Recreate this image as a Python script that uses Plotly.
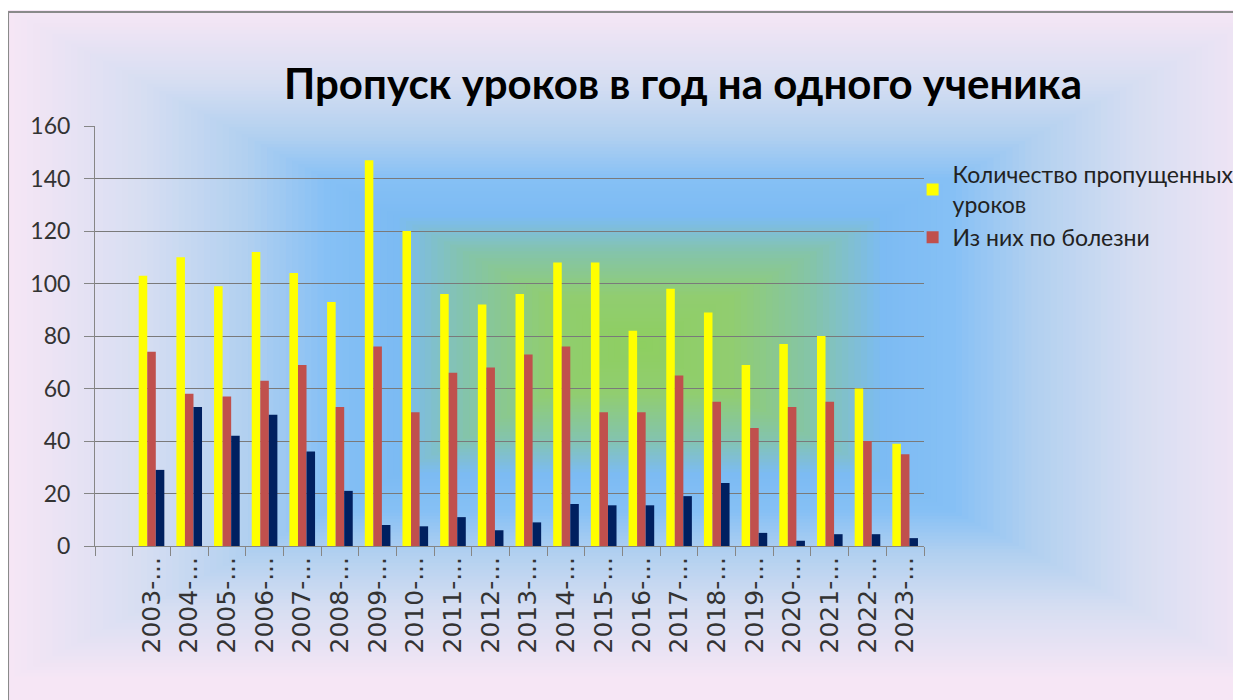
import plotly.graph_objects as go

# ---------------- data ----------------
seasons = ["2003-2004", "2004-2005", "2005-2006", "2006-2007", "2007-2008",
           "2008-2009", "2009-2010", "2010-2011", "2011-2012", "2012-2013",
           "2013-2014", "2014-2015", "2015-2016", "2016-2017", "2017-2018",
           "2018-2019", "2019-2020", "2020-2021", "2021-2022", "2022-2023",
           "2023-2024"]
missed_total = [103, 110, 99, 112, 104, 93, 147, 120, 96, 92, 96,
                108, 108, 82, 98, 89, 69, 77, 80, 60, 39]
missed_illness = [74, 58, 57, 63, 69, 53, 76, 51, 66, 68, 73,
                  76, 51, 51, 65, 55, 45, 53, 55, 40, 35]
series3 = [29, 53, 42, 50, 36, 21, 8, 7.5, 11, 6, 9,
           16, 15.5, 15.5, 19, 24, 5, 2, 4.5, 4.5, 3]
name_total = "Количество пропущенных<br>уроков"
name_illness = "Из них по болезни"
name_3 = "Ряд 3"
title_text = "Пропуск уроков в год на одного ученика"

# truncated labels as shown on the chart
labels = [s[:5] + "..." for s in seasons]

# ---------------- geometry helpers (page pixel coords) ----------------
OFF = 8                      # default body margin of the html page
W, H = 1241 - OFF, 700 - OFF
PL, PR, PT, PB = 95, 924.4, 126, 546      # plot area in page pixels
ML, MT = PL - OFF, PT - OFF
MR, MB = W - (PR - OFF), H - (PB - OFF)
PW, PH = PR - PL, PB - PT


def px(x):
    return (x - PL) / PW


def py(y):
    return (PB - y) / PH


# gradient (rectangular path from centre)
stops = [
    (0.00, (142, 207, 96)),
    (0.15, (145, 205, 112)),
    (0.28, (132, 196, 170)),
    (0.39, (124, 187, 243)),
    (0.50, (134, 192, 245)),
    (0.63, (178, 208, 240)),
    (0.79, (214, 222, 242)),
    (1.00, (246, 230, 245)),
]


def col(t):
    for (t0, c0), (t1, c1) in zip(stops[:-1], stops[1:]):
        if t <= t1:
            f = (t - t0) / (t1 - t0) if t1 > t0 else 0
            c = [round(a + (b - a) * f) for a, b in zip(c0, c1)]
            return "rgb(%d,%d,%d)" % tuple(c)
    return "rgb(%d,%d,%d)" % stops[-1][1]


shapes = []
shapes.append(dict(type="rect", xref="paper", yref="paper", layer="below",
                   x0=px(8), x1=px(1260), y0=py(13), y1=py(720),
                   fillcolor=col(1.0), line=dict(width=0)))
cx, cy, GW, GH = 640, 345, 632, 335
N = 100
for k in range(N):
    t = 1 - k / N
    shapes.append(dict(type="rect", xref="paper", yref="paper", layer="below",
                       x0=px(cx - GW * t), x1=px(cx + GW * t),
                       y0=py(cy - GH * t), y1=py(cy + GH * t),
                       fillcolor=col(t), line=dict(width=0)))
# frame border (only top / left edges fall inside the picture)
shapes.append(dict(type="line", xref="paper", yref="paper", layer="below",
                   x0=px(8), x1=px(1260), y0=py(12), y1=py(12),
                   line=dict(color="#8a8a8a", width=2)))
shapes.append(dict(type="line", xref="paper", yref="paper", layer="below",
                   x0=px(8), x1=px(8), y0=py(12), y1=py(720),
                   line=dict(color="#8a8a8a", width=2)))

fig = go.Figure()
fig.add_trace(go.Bar(x=labels, y=missed_total, name=name_total,
                     marker=dict(color="#ffff00", line=dict(width=0))))
fig.add_trace(go.Bar(x=labels, y=missed_illness, name=name_illness,
                     marker=dict(color="#c0504d", line=dict(width=0))))
fig.add_trace(go.Bar(x=labels, y=series3, name=name_3, showlegend=False,
                     marker=dict(color="#002060", line=dict(width=0))))

fig.update_layout(
    width=W, height=H,
    margin=dict(l=ML, r=MR, t=MT, b=MB, autoexpand=False),
    paper_bgcolor="white",
    plot_bgcolor="rgba(0,0,0,0)",
    barmode="group", bargap=0.32, bargroupgap=0,
    shapes=shapes,
    title=dict(text=title_text, x=(683 - OFF) / W, xanchor="center",
               y=1 - (84 - OFF) / H, yanchor="middle",
               font=dict(family="Lato, sans-serif",
                         size=42, color="black", weight="bold")),
    legend=dict(x=px(913), y=py(153), xanchor="left", yanchor="top",
                bgcolor="rgba(0,0,0,0)", traceorder="normal",
                font=dict(family="Lato, sans-serif", size=23, color="#222"),
                itemwidth=30, tracegroupgap=0),
    xaxis=dict(type="category", categoryorder="array",
               categoryarray=[" "] + labels, range=[-0.5, 21.5],
               tickson="boundaries", ticks="outside", ticklen=9,
               tickcolor="#868686", tickwidth=1,
               showline=True, linecolor="#868686", linewidth=1,
               showgrid=False, tickangle=-90,
               tickfont=dict(family="DejaVu Sans", size=25, color="#333")),
    yaxis=dict(range=[0, 160], dtick=20, ticks="outside", ticklen=10,
               tickcolor="#868686", ticklabelstandoff=9,
               showline=True, linecolor="#868686", linewidth=1,
               showgrid=True, gridcolor="#7a7a7a", gridwidth=1.3,
               zeroline=False,
               tickfont=dict(family="Lato, sans-serif", size=23, color="#333")),
)

fig.write_html("out.html", config={"displayModeBar": False},
               post_script="document.body.style.overflow='hidden';")
